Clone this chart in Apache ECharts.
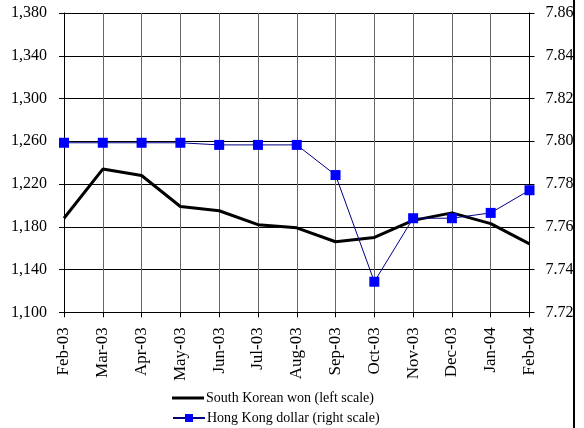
<!DOCTYPE html>
<html>
<head>
<meta charset="utf-8">
<script src="https://cdn.jsdelivr.net/npm/echarts@6/dist/echarts.min.js"></script>
<style>
  html, body { margin: 0; padding: 0; background: #fff; }
  #chart { width: 584px; height: 428px; }
</style>
</head>
<body>
<div id="chart"></div>
<script>
const months = ['Feb-03', 'Mar-03', 'Apr-03', 'May-03', 'Jun-03', 'Jul-03', 'Aug-03',
  'Sep-03', 'Oct-03', 'Nov-03', 'Dec-03', 'Jan-04', 'Feb-04']
const wonValues = [1188, 1234, 1228, 1199, 1195, 1182, 1179, 1166, 1170, 1186, 1193, 1183, 1164]
const hkdValues = [7.7993, 7.7993, 7.7993, 7.7993, 7.7983, 7.7983, 7.7983, 7.7842, 7.7343, 7.7640, 7.7640, 7.7665, 7.7771]
const leftTicks = { min: 1100, max: 1380, interval: 40 }
const rightTicks = { min: 7.72, max: 7.86, interval: 0.02 }

const wonName = 'South Korean won (left scale)'
const hkdName = 'Hong Kong dollar (right scale)'
const serif = '"Liberation Serif", "Times New Roman", serif'

const chart = echarts.init(document.getElementById('chart'))

const legendText = { fontFamily: serif, fontSize: 14, color: '#000', padding: [0, 0, 0, -3] }

const option = {
  animation: false,
  backgroundColor: '#fff',
  textStyle: { fontFamily: serif, color: '#000' },
  grid: { left: 64, right: 54.5, top: 13, bottom: 115.7 },
  legend: [
    {
      left: 172,
      top: 391,
      padding: 0,
      itemWidth: 32,
      itemHeight: 3,
      itemGap: 0,
      textStyle: legendText,
      data: [{ name: wonName, icon: 'rect' }]
    },
    {
      left: 172,
      top: 411,
      padding: 0,
      itemWidth: 32,
      itemHeight: 10,
      itemGap: 0,
      textStyle: legendText,
      data: [hkdName]
    }
  ],
  xAxis: {
    type: 'category',
    data: months,
    boundaryGap: false,
    axisLine: { lineStyle: { color: '#000', width: 1 } },
    axisTick: { length: 5, lineStyle: { color: '#000' } },
    axisLabel: { rotate: 90, margin: 15, fontSize: 17, fontFamily: serif, color: '#000', interval: 0 },
    splitLine: { show: true, lineStyle: { color: '#666', width: 1 } }
  },
  yAxis: [
    {
      type: 'value',
      min: leftTicks.min,
      max: leftTicks.max,
      interval: leftTicks.interval,
      axisLine: { show: true, lineStyle: { color: '#000' } },
      axisTick: { show: true, length: 5, lineStyle: { color: '#000' } },
      axisLabel: {
        margin: 17, fontSize: 16, fontFamily: serif, color: '#000',
        formatter: v => v.toLocaleString('en-US')
      },
      splitLine: { show: true, lineStyle: { color: '#000', width: 1 } }
    },
    {
      type: 'value',
      position: 'right',
      min: rightTicks.min,
      max: rightTicks.max,
      interval: rightTicks.interval,
      axisLine: { show: true, lineStyle: { color: '#000' } },
      axisTick: { show: true, length: 5, lineStyle: { color: '#000' } },
      axisLabel: {
        margin: 16, fontSize: 16, fontFamily: serif, color: '#000',
        formatter: v => v.toFixed(2)
      },
      splitLine: { show: false }
    }
  ],
  series: [
    {
      name: wonName,
      type: 'line',
      yAxisIndex: 0,
      data: wonValues,
      symbol: 'none',
      lineStyle: { color: '#000', width: 3 },
      itemStyle: { color: '#000' },
      z: 3
    },
    {
      name: hkdName,
      type: 'line',
      yAxisIndex: 1,
      data: hkdValues,
      symbol: 'rect',
      symbolSize: 10,
      lineStyle: { color: '#000080', width: 1 },
      itemStyle: { color: '#0000ff', borderWidth: 0 },
      z: 4
    }
  ],
  graphic: [
    { type: 'rect', left: 573, top: 0, shape: { width: 11, height: 428 }, style: { fill: '#fff' }, z: 100 },
    { type: 'rect', left: 573, top: 0, shape: { width: 2, height: 428 }, style: { fill: '#000' }, z: 101 }
  ]
}

chart.setOption(option)
</script>
</body>
</html>
